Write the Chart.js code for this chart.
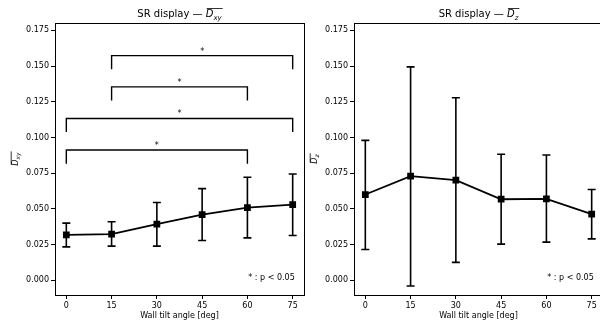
<!DOCTYPE html>
<html>
<head>
<meta charset="utf-8">
<script src="https://cdn.jsdelivr.net/npm/chart.js@4"></script>
<style>
	html, body { margin: 0; padding: 0; background: #fff; overflow: hidden; width: 600px; height: 325px; }
	canvas { position: absolute; top: 0; }
	#chart-xy { left: 0; }
	#chart-z { left: 300px; }
</style>
</head>
<body>
<canvas id="chart-xy" width="310" height="325"></canvas>
<canvas id="chart-z" width="310" height="325"></canvas>
<script>
'use strict';

const angles = [0, 15, 30, 45, 60, 75];
const xTicks = [0, 15, 30, 45, 60, 75];
const yTicks = [0, 0.025, 0.05, 0.075, 0.1, 0.125, 0.15, 0.175];

// D_xy: mean and error bar ends
const dxyMean = [0.0319, 0.0324, 0.0394, 0.0461, 0.0510, 0.0531];
const dxyLow  = [0.0235, 0.0240, 0.0240, 0.0279, 0.0298, 0.0314];
const dxyHigh = [0.0401, 0.0410, 0.0545, 0.0642, 0.0722, 0.0745];

// D_z
const dzMean = [0.0601, 0.0729, 0.0701, 0.0568, 0.0571, 0.0464];
const dzLow  = [0.0216, -0.0039, 0.0126, 0.0254, 0.0268, 0.0291];
const dzHigh = [0.0980, 0.1494, 0.1278, 0.0883, 0.0878, 0.0636];

// significance brackets (only on D_xy)
const sigFrom = [15, 15, 0, 0];
const sigTo   = [75, 60, 75, 60];
const sigY    = [0.1573, 0.1354, 0.1133, 0.0912];
const sigDrop = 0.0095;

const FONT = '"DejaVu Sans", sans-serif';

function drawD(ctx, x, y, sub, size){
	// italic D with overline and subscript, baseline at y, starting at x
	ctx.font = 'italic ' + size + 'px ' + FONT;
	const wD = ctx.measureText('D').width;
	ctx.fillText('D', x, y);
	const subSize = Math.round(size * 0.7);
	ctx.font = 'italic ' + subSize + 'px ' + FONT;
	const wS = ctx.measureText(sub).width;
	ctx.fillText(sub, x + wD, y + size * 0.25);
	const top = y - size * 0.85;
	ctx.lineWidth = 0.8;
	ctx.beginPath();
	ctx.moveTo(x + 1, top);
	ctx.lineTo(x + wD + wS + 1, top);
	ctx.stroke();
	return wD + wS;
}

function measureD(ctx, sub, size){
	ctx.font = 'italic ' + size + 'px ' + FONT;
	const wD = ctx.measureText('D').width;
	ctx.font = 'italic ' + Math.round(size * 0.7) + 'px ' + FONT;
	return wD + ctx.measureText(sub).width;
}

function makeChart(id, mean, low, high, sub, leftWidth, rightPad, brackets){
	const decor = {
		id: 'decor',
		beforeDatasetsDraw(chart){
			const {ctx, scales: {x, y}} = chart;
			ctx.save();
			ctx.strokeStyle = '#000';
			ctx.lineWidth = 1.6;
			ctx.beginPath();
			for(let i = 0; i < angles.length; i++){
				const px = x.getPixelForValue(angles[i]);
				const yl = y.getPixelForValue(low[i]);
				const yh = y.getPixelForValue(high[i]);
				ctx.moveTo(px, yl); ctx.lineTo(px, yh);
				ctx.moveTo(px - 4, yl); ctx.lineTo(px + 4, yl);
				ctx.moveTo(px - 4, yh); ctx.lineTo(px + 4, yh);
			}
			ctx.stroke();
			ctx.restore();
		},
		afterDraw(chart){
			const {ctx, chartArea: a, scales: {x, y}} = chart;
			ctx.save();
			ctx.strokeStyle = '#000';
			ctx.fillStyle = '#000';
			ctx.lineWidth = 1;
			ctx.strokeRect(Math.round(a.left) + 0.5, Math.round(a.top) + 0.5,
				Math.round(a.right - a.left), Math.round(a.bottom - a.top));

			if(brackets){
				ctx.lineWidth = 1.4;
				ctx.font = '8px ' + FONT;
				ctx.textAlign = 'center';
				ctx.textBaseline = 'alphabetic';
				for(let i = 0; i < sigFrom.length; i++){
					const x1 = x.getPixelForValue(sigFrom[i]);
					const x2 = x.getPixelForValue(sigTo[i]);
					const yb = y.getPixelForValue(sigY[i]);
					const yd = y.getPixelForValue(sigY[i] - sigDrop);
					ctx.beginPath();
					ctx.moveTo(x1, yd); ctx.lineTo(x1, yb);
					ctx.lineTo(x2, yb); ctx.lineTo(x2, yd);
					ctx.stroke();
					ctx.fillText('*', (x1 + x2) / 2, yb - 2);
				}
			}

			// note
			ctx.font = '8px ' + FONT;
			ctx.textAlign = 'right';
			ctx.textBaseline = 'middle';
			ctx.fillText('* : p < 0.05', a.left + (a.right - a.left) * 0.963, a.bottom - (a.bottom - a.top) * 0.062);

			// x title
			ctx.textAlign = 'center';
			ctx.fillText('Wall tilt angle [deg]', (a.left + a.right) / 2, 316);

			// chart title
			ctx.font = '10px ' + FONT;
			const prefix = 'SR display \u2014 ';
			const wP = ctx.measureText(prefix).width;
			const wD = measureD(ctx, sub, 10);
			const tx = (a.left + a.right) / 2 - (wP + wD) / 2;
			ctx.textAlign = 'left';
			ctx.textBaseline = 'alphabetic';
			ctx.font = '10px ' + FONT;
			ctx.fillText(prefix, tx, 17);
			drawD(ctx, tx + wP, 17, sub, 10);

			// y title, rotated
			ctx.translate(leftWidth - 40, (a.top + a.bottom) / 2);
			ctx.rotate(-Math.PI / 2);
			const wY = measureD(ctx, sub, 8);
			drawD(ctx, -wY / 2, 3, sub, 8);
			ctx.restore();
		}
	};

	return new Chart(document.getElementById(id), {
		type: 'scatter',
		data: {
			datasets: [{
				data: angles.map((a, i) => ({x: a, y: mean[i]})),
				showLine: true,
				borderColor: '#000',
				backgroundColor: '#000',
				borderWidth: 1.8,
				pointStyle: 'rect',
				pointRadius: 3.5,
				pointHoverRadius: 3.5
			}]
		},
		options: {
			responsive: false,
			animation: false,
			events: [],
			layout: {padding: {top: 23, right: rightPad, left: 0, bottom: 0}},
			plugins: {legend: {display: false}, tooltip: {enabled: false}, title: {display: false}},
			scales: {
				x: {
					type: 'linear',
					min: -3.75,
					max: 78.75,
					afterBuildTicks: s => { s.ticks = xTicks.map(v => ({value: v})); },
					afterFit: s => { s.height = 30; },
					border: {display: false},
					grid: {drawOnChartArea: false, drawTicks: true, tickLength: 4, color: '#000', lineWidth: 1},
					ticks: {color: '#000', font: {family: FONT, size: 8}, padding: 2, maxRotation: 0, callback: v => String(v)}
				},
				y: {
					type: 'linear',
					min: -0.0102,
					max: 0.1801,
					afterBuildTicks: s => { s.ticks = yTicks.map(v => ({value: v})); },
					afterFit: s => { s.width = leftWidth; },
					border: {display: false},
					grid: {drawOnChartArea: false, drawTicks: true, tickLength: 4, color: '#000', lineWidth: 1},
					ticks: {color: '#000', font: {family: FONT, size: 8}, padding: 2, callback: v => v.toFixed(3)}
				}
			}
		},
		plugins: [decor]
	});
}

makeChart('chart-xy', dxyMean, dxyLow, dxyHigh, 'xy', 55, 6, true);
makeChart('chart-z', dzMean, dzLow, dzHigh, 'z', 54, 7, false);
</script>
</body>
</html>
